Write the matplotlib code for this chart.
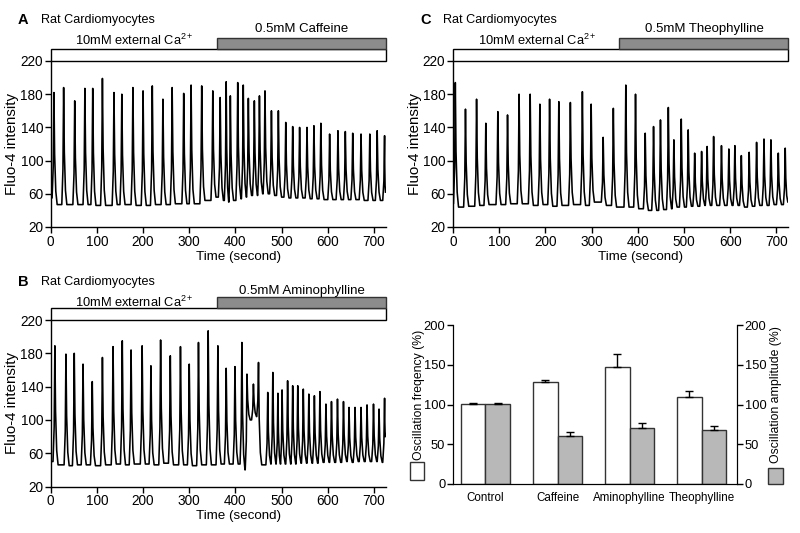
import matplotlib
matplotlib.use("Agg")
import matplotlib.pyplot as plt
from matplotlib.patches import Rectangle
import numpy as np

plt.rcParams['font.family'] = ['Liberation Sans', 'DejaVu Sans']
plt.rcParams['mathtext.fontset'] = 'custom'
plt.rcParams['mathtext.rm'] = 'Liberation Sans'
plt.rcParams['mathtext.it'] = 'Liberation Sans:italic'
plt.rcParams['mathtext.bf'] = 'Liberation Sans:bold'

# ---------------- data ----------------
# Panel A: caffeine
A_peak_t = [7, 28, 52, 74, 91, 112, 137, 154, 178, 200, 220, 243, 263, 288, 304, 327, 351, 367, 380, 389,
            405, 417, 428, 441, 452, 464, 478, 493, 509, 524, 539, 555, 570, 585, 604, 622, 638, 654, 672, 691,
            707, 723]
A_peak_v = [182, 188, 172, 187, 187, 199, 182, 180, 188, 184, 190, 174, 188, 181, 191, 190, 184, 176, 195, 178,
            194, 191, 175, 172, 178, 184, 160, 160, 146, 141, 140, 140, 142, 145, 132, 136, 135, 133, 132, 132,
            136, 130]
A_trough = [55, 47, 47, 47, 47, 46, 46, 47, 47, 46, 46, 47, 47, 48, 48, 48, 52, 56, 52, 50,
            52, 54, 56, 58, 58, 60, 60, 58, 56, 55, 55, 55, 54, 54, 53, 53, 53, 53, 53, 52,
            52, 52, 62]

# Panel B: aminophylline
B_peak_t = [9, 33, 51, 70, 90, 112, 135, 155, 174, 198, 217, 238, 259, 281, 300, 320, 341, 362, 380, 399,
            414, 425, 439, 450, 470, 481, 492, 501, 513, 524, 535, 547, 559, 571, 583, 596, 608, 621, 634, 646,
            659, 672, 685, 699, 711, 723]
B_peak_v = [189, 179, 180, 167, 146, 175, 188, 195, 184, 189, 165, 196, 177, 188, 167, 193, 207, 189, 162, 164,
            193, 155, 143, 169, 133, 157, 132, 136, 147, 141, 141, 137, 131, 129, 134, 119, 122, 125, 122, 115,
            115, 115, 118, 119, 113, 126]
B_trough = [50, 46, 45, 46, 46, 45, 46, 47, 46, 47, 47, 46, 48, 46, 46, 45, 46, 46, 47, 47,
            47, 40, 100, 104, 46, 47, 47, 47, 47, 47, 47, 48, 48, 48, 48, 49, 49, 49, 49, 50,
            49, 50, 50, 50, 50, 49, 80]

# Panel C: theophylline
C_peak_t = [5, 27, 51, 71, 97, 118, 143, 167, 188, 209, 229, 254, 280, 299, 325, 347, 374, 395, 416, 434,
            449, 466, 478, 494, 509, 523, 538, 550, 564, 581, 597, 610, 624, 641, 657, 673, 688, 704, 719]
C_peak_v = [194, 162, 174, 145, 159, 155, 180, 180, 168, 174, 171, 170, 183, 168, 128, 163, 191, 180, 133, 141,
            149, 164, 125, 150, 137, 109, 111, 117, 129, 118, 114, 118, 106, 110, 122, 126, 125, 109, 115]
C_trough = [48, 44, 45, 46, 47, 47, 48, 48, 46, 47, 45, 46, 47, 46, 50, 46, 44, 44, 42, 40,
            40, 41, 42, 44, 44, 45, 45, 46, 46, 46, 46, 46, 46, 44, 45, 46, 46, 47, 47, 50]

drug_start = 360
trace_end = 725

# Panel D
categories = ['Control', 'Caffeine', 'Aminophylline', 'Theophylline']
freq = [101, 128, 147, 110]
freq_err = [1, 2.5, 17, 6.5]
amp = [101, 60, 71, 68]
amp_err = [1, 6, 6, 5]

# ---------------- helpers ----------------
RISE = [(-4.0, 0.0), (-1.5, 0.3), (0.0, 1.0)]
DECAY = [(1.5, 0.45), (4.0, 0.12), (7.0, 0.0)]


def build_trace(pt, pv, tr, t_end):
    xs, ys = [0.0], [tr[0]]
    n = len(pt)
    for i in range(n):
        prev_gap = pt[i] - (pt[i - 1] if i > 0 else -10)
        next_gap = (pt[i + 1] if i < n - 1 else t_end) - pt[i]
        rs = min(1.0, prev_gap / 11.5)
        ds = min(1.0, next_gap / 11.5) if i < n - 1 else min(1.0, next_gap / 7.5)
        for o, f in RISE:
            t = pt[i] + o * rs
            if t < 0:
                continue
            xs.append(t)
            ys.append(tr[i] + f * (pv[i] - tr[i]))
        for o, f in DECAY:
            t = pt[i] + o * ds
            if t >= t_end:
                continue
            xs.append(t)
            ys.append(tr[i + 1] + f * (pv[i] - tr[i + 1]))
    xs.append(t_end)
    ys.append(tr[-1])
    return xs, ys


W, H = 800, 533
fig = plt.figure(figsize=(8, 5.33), dpi=100)


def fx(px):
    return px / W


def fy(py):
    return 1 - py / H


TICK_FS = 9.8
TITLE_FS = 9.3


def trace_panel(rect, pt, pv, tr, letter, drug, top_px):
    ax = fig.add_axes(rect)
    xs, ys = build_trace(pt, pv, tr, trace_end)
    ax.plot(xs, ys, color='black', lw=1.15)
    ax.set_xlim(0, trace_end)
    ax.set_ylim(20, 220)
    ax.set_xticks(range(0, 701, 100))
    ax.set_yticks(range(20, 221, 40))
    for s in ['top', 'right']:
        ax.spines[s].set_visible(False)
    ax.spines['left'].set_linewidth(1.0)
    ax.spines['bottom'].set_linewidth(1.0)
    ax.tick_params(direction='out', length=4, width=1, labelsize=TICK_FS, pad=1.5)
    ax.set_xlabel('Time (second)', fontsize=9.6)
    ax.xaxis.set_label_coords(0.56, -0.143)
    ax.set_ylabel('Fluo-4 intensity', fontsize=10.8)
    ax.yaxis.set_label_coords(-0.094, 0.5)
    # stimulus bars
    ax.add_patch(Rectangle((0, 220), trace_end, 14, facecolor='white', edgecolor='black',
                           lw=1.0, clip_on=False, zorder=3))
    ax.add_patch(Rectangle((drug_start, 234), trace_end - drug_start, 14, facecolor='#8c8c8c',
                           edgecolor='#333333', lw=1.0, clip_on=False, zorder=3))
    left_px = rect[0] * W
    fig.text(fx(left_px - 33), fy(top_px + 20), letter, fontsize=10.5, fontweight='bold',
             ha='left', va='center')
    fig.text(fx(left_px - 10), fy(top_px + 20), 'Rat Cardiomyocytes', fontsize=9.1,
             ha='left', va='center')
    fig.text(fx(left_px + 84), fy(top_px + 40), r'10mM external Ca$^{\mathrm{2+}}$', fontsize=TITLE_FS,
             ha='center', va='center')
    fig.text(fx(left_px + 251), fy(top_px + 29), drug, fontsize=9.5, ha='center', va='center')
    return ax


axA = trace_panel([fx(50.7), fy(227), fx(385.5) - fx(50.7), fy(61) - fy(227)],
                  A_peak_t, A_peak_v, A_trough, 'A', '0.5mM Caffeine', 0)
axC = trace_panel([fx(453), fy(227), fx(788) - fx(453), fy(61) - fy(227)],
                  C_peak_t, C_peak_v, C_trough, 'C', '0.5mM Theophylline', 0)
axB = trace_panel([fx(50.7), fy(486.5), fx(385.5) - fx(50.7), fy(320) - fy(486.5)],
                  B_peak_t, B_peak_v, B_trough, 'B', '0.5mM Aminophylline', 262)

# ---------------- panel D ----------------
axD = fig.add_axes([fx(453), fy(484), fx(737) - fx(453), fy(325) - fy(484)])
x = np.arange(len(categories))
bw = 0.34
gray = '#b8b8b8'
axD.bar(x - bw / 2, freq, width=bw, color='white', edgecolor='#333333', lw=1.0, zorder=2)
axD.bar(x + bw / 2, amp, width=bw, color=gray, edgecolor='#333333', lw=1.0, zorder=2)
axD.errorbar(x - bw / 2, freq, yerr=[[0] * 4, freq_err], fmt='none', ecolor='black',
             elinewidth=1.0, capsize=3, capthick=1.0, zorder=3)
axD.errorbar(x + bw / 2, amp, yerr=[[0] * 4, amp_err], fmt='none', ecolor='black',
             elinewidth=1.0, capsize=3, capthick=1.0, zorder=3)
axD.set_xlim(-0.45, 3.49)
axD.set_ylim(0, 200)
axD.set_yticks(range(0, 201, 50))
axD.set_xticks(x)
axD.set_xticklabels(categories)
axD.spines['top'].set_visible(False)
axD.tick_params(axis='x', length=0, labelsize=8.4, pad=6)
axD.tick_params(axis='y', direction='out', length=4, width=1, labelsize=9.3, pad=1.5)
axD.set_ylabel('Oscillation freqency (%)', fontsize=8.8)
axD.yaxis.set_label_coords(-0.10, 0.56)

axD2 = axD.twinx()
axD2.set_ylim(0, 200)
axD2.set_yticks(range(0, 201, 50))
axD2.spines['top'].set_visible(False)
axD2.tick_params(axis='y', direction='out', length=4, width=1, labelsize=9.3, pad=1.5)
axD2.set_ylabel('Oscillation amplitude (%)', fontsize=8.8, rotation=90)
axD2.yaxis.set_label_coords(1.115, 0.56)

# legend swatches
fig.patches.append(Rectangle((fx(410), fy(480)), fx(14), 18 / H, transform=fig.transFigure,
                             facecolor='white', edgecolor='#333333', lw=1.0))
fig.patches.append(Rectangle((fx(768), fy(484)), fx(15), 16 / H, transform=fig.transFigure,
                             facecolor=gray, edgecolor='#333333', lw=1.0))

fig.savefig('out.png', dpi=100)
